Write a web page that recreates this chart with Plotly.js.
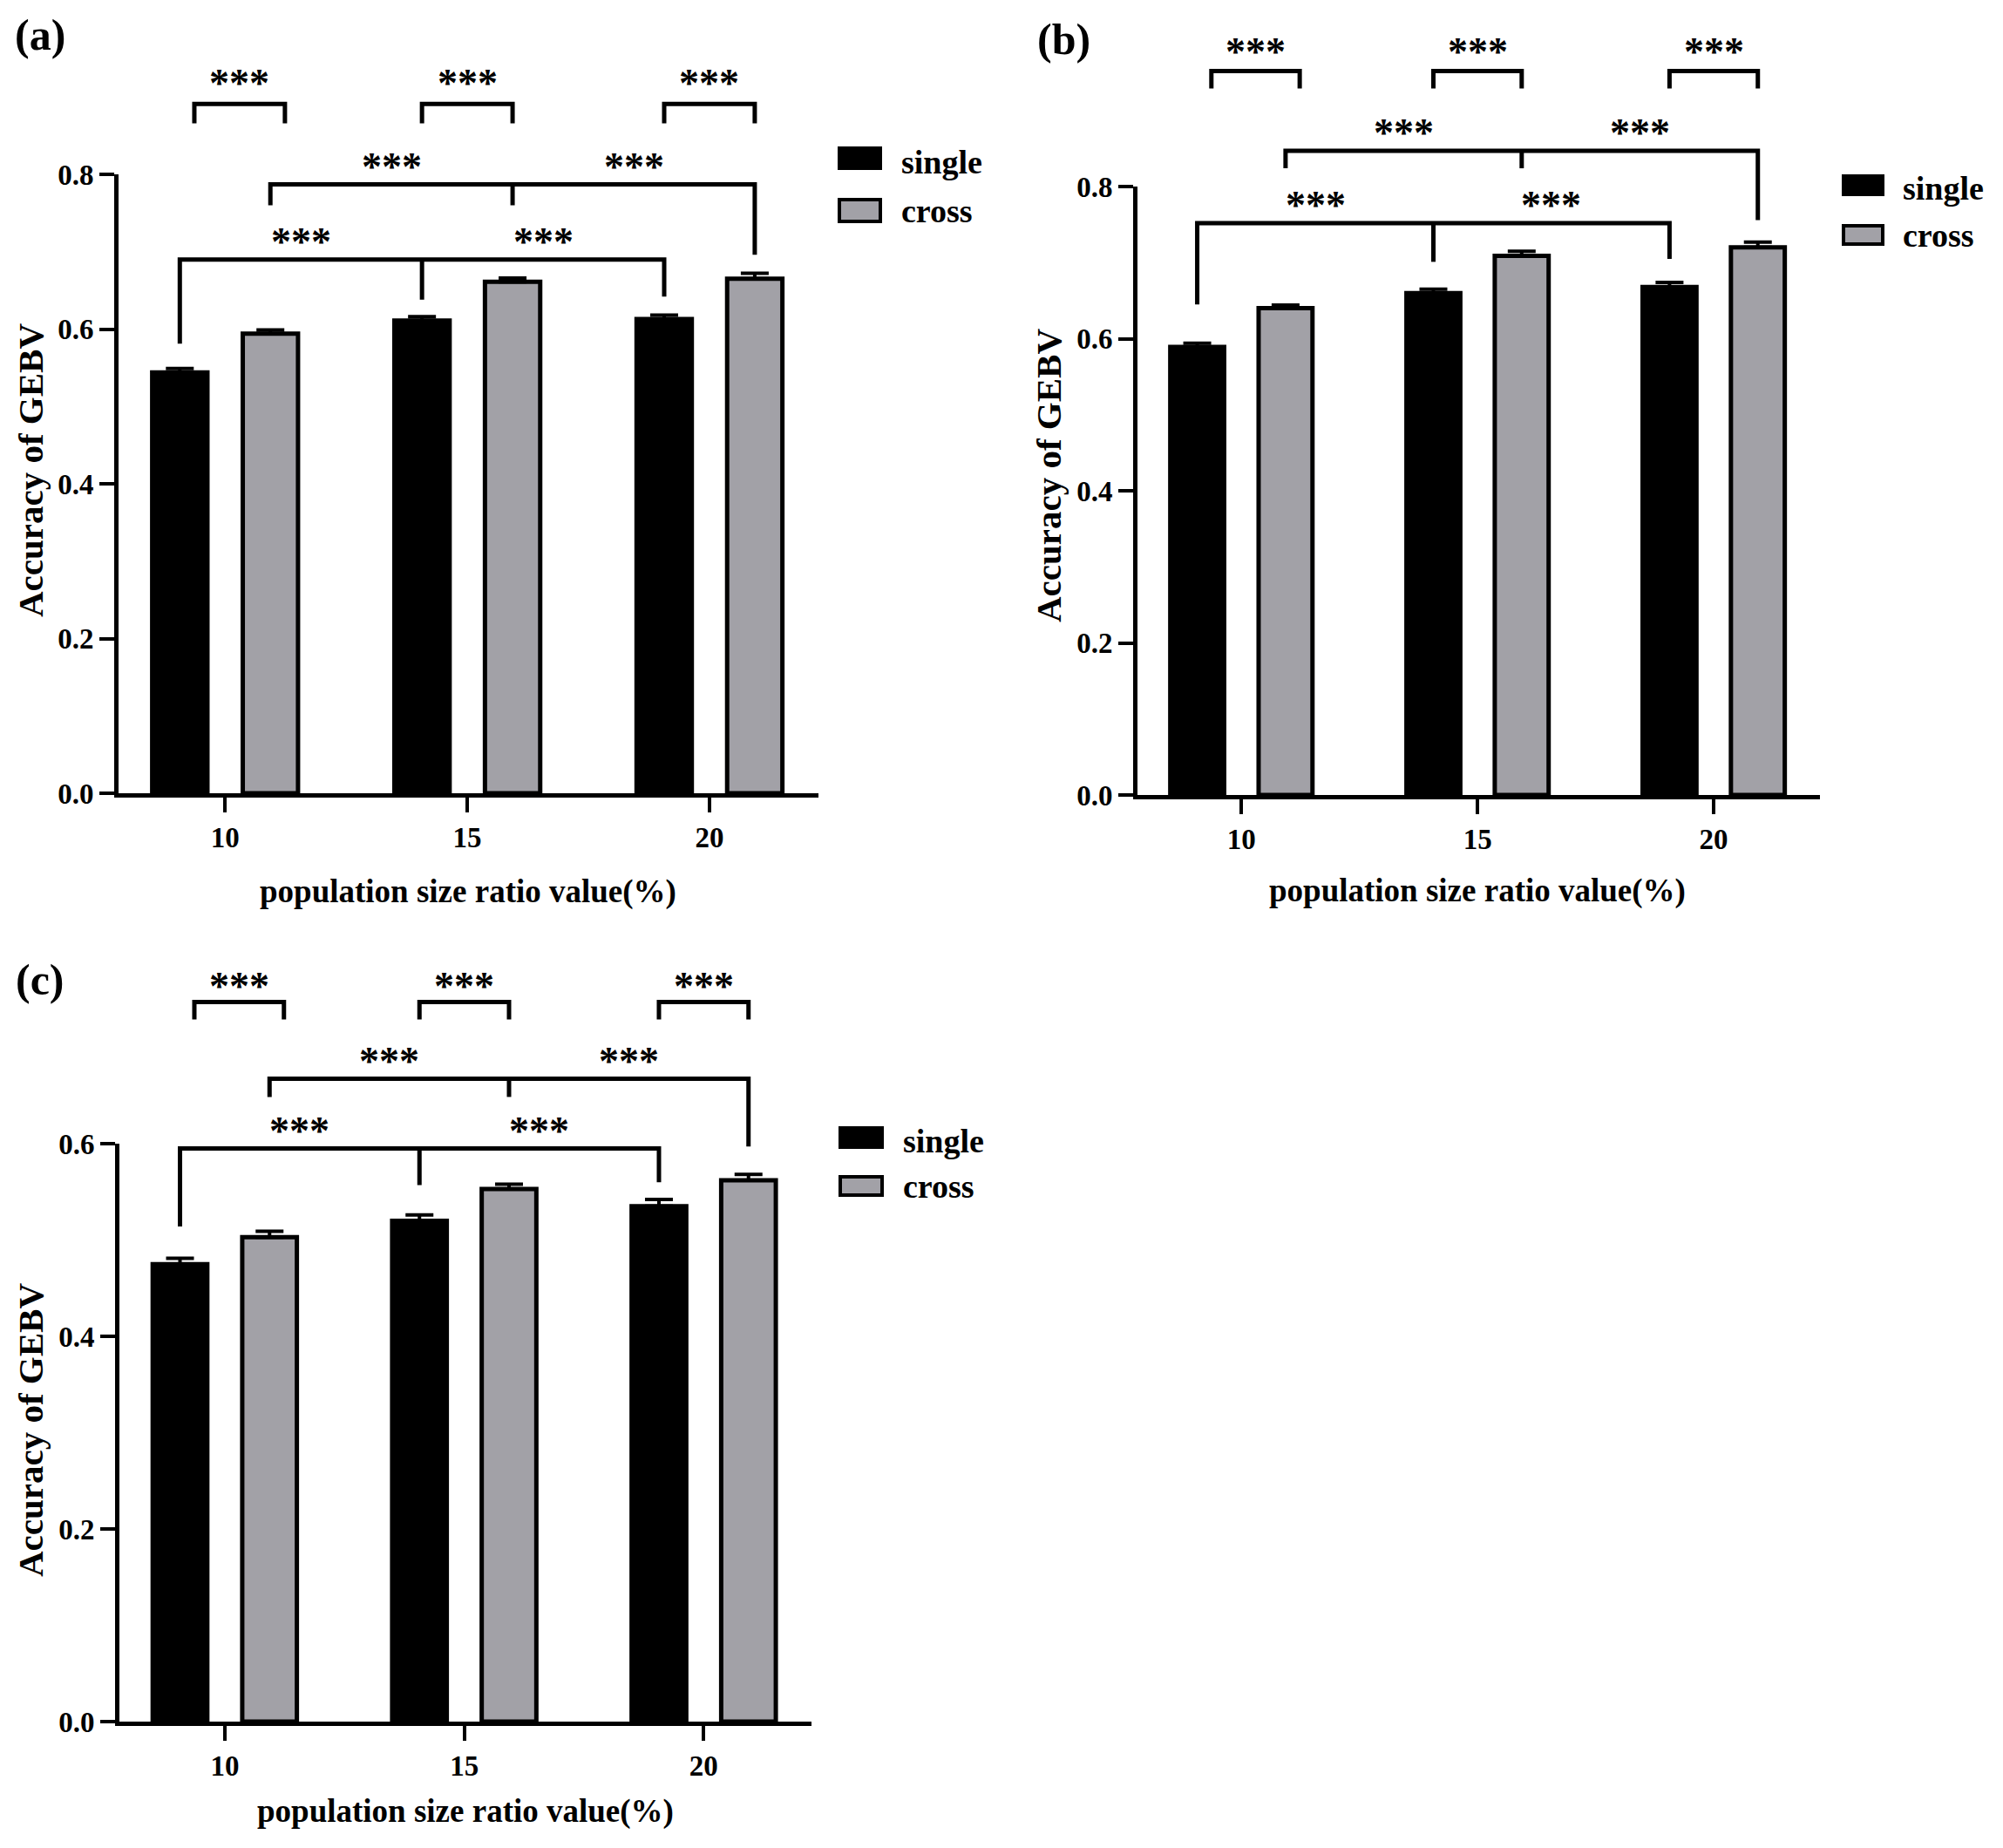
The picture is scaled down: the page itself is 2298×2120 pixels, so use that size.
<!DOCTYPE html>
<html>
<head>
<meta charset="utf-8">
<script src="https://cdn.plot.ly/plotly-3.0.1.min.js"></script>
<style>
  body { margin: 0; background: #fff; }
  #chart { width: 2298px; height: 2120px; }
</style>
</head>
<body>
<div id="chart"></div>
<script>
// values
var ratios = [10, 15, 20]
var tickText = ['10', '15', '20']

var singleA = [0.544, 0.611, 0.613]
var singleErrA = [0.005, 0.005, 0.005]
var crossA = [0.594, 0.661, 0.665]
var crossErrA = [0.005, 0.005, 0.007]

var singleB = [0.589, 0.660, 0.668]
var singleErrB = [0.005, 0.005, 0.006]
var crossB = [0.640, 0.709, 0.720]
var crossErrB = [0.004, 0.006, 0.007]

var singleC = [0.475, 0.520, 0.535]
var singleErrC = [0.006, 0.006, 0.007]
var crossC = [0.503, 0.553, 0.562]
var crossErrC = [0.006, 0.005, 0.006]

// significance brackets: [line level, leg ends...]
var pairA = [0.891, 0.866]
var crossLinkA = [0.787, 0.760, 0.760, 0.696]
var singleLinkA = [0.690, 0.581, 0.638, 0.642]

var pairB = [0.952, 0.929]
var crossLinkB = [0.847, 0.824, 0.824, 0.756]
var singleLinkB = [0.752, 0.645, 0.701, 0.705]

var pairC = [0.747, 0.729]
var crossLinkC = [0.6675, 0.6485, 0.6485, 0.597]
var singleLinkC = [0.595, 0.514, 0.557, 0.560]

var sigText = '***'

var W = 2298, H = 2120
var BARGAP = 0.252, GROUPGAP = 0.39
var GRAY = '#a2a1a7'
var FONT = 'Liberation Serif, Times New Roman, serif'

function px(x) { return x / W }
function py(y) { return 1 - y / H }

var panels = [
    {tag: '(a)', single: singleA, singleErr: singleErrA, cross: crossA, crossErr: crossErrA,
     pair: pairA, crossLink: crossLinkA, singleLink: singleLinkA,
     l: 136, r: 939, b: 910, t: 200, topBr: 40, ymax: 0.8, pairShift: 24,
     label: [46, 40], ytitle: [35, 540], xtitle: [537, 1023],
     leg: {x0: 963, x1: 1010, s: [170, 193], c: [229, 254], tx: 1032}},
    {tag: '(b)', single: singleB, singleErr: singleErrB, cross: crossB, crossErr: crossErrB,
     pair: pairB, crossLink: crossLinkB, singleLink: singleLinkB,
     l: 1305, r: 2088, b: 912, t: 214, topBr: 25, ymax: 0.8, pairShift: 22,
     label: [1220, 45], ytitle: [1203, 546], xtitle: [1695, 1022],
     leg: {x0: 2115, x1: 2160, s: [202, 223], c: [259, 280], tx: 2181}},
    {tag: '(c)', single: singleC, singleErr: singleErrC, cross: crossC, crossErr: crossErrC,
     pair: pairC, crossLink: crossLinkC, singleLink: singleLinkC,
     l: 137, r: 931, b: 1975, t: 1312, topBr: 1085, ymax: 0.6, pairShift: 18,
     label: [46, 1124], ytitle: [35, 1641], xtitle: [534, 2078],
     leg: {x0: 964, x1: 1012, s: [1294, 1316], c: [1350, 1371], tx: 1034}}
]

var data = []
var layout = {
    width: W, height: H,
    margin: {l: 0, r: 0, t: 0, b: 0},
    paper_bgcolor: '#fff',
    plot_bgcolor: 'rgba(0,0,0,0)',
    barmode: 'group',
    bargap: BARGAP,
    bargroupgap: GROUPGAP,
    showlegend: false,
    shapes: [],
    annotations: []
}

var step = ratios[1] - ratios[0]
var off = step * (1 - BARGAP) / 4

function txt(x, y, s, size, extra) {
    var a = {xref: 'paper', yref: 'paper', x: px(x), y: py(y), text: s, showarrow: false,
             xanchor: 'center', yanchor: 'middle',
             font: {family: FONT, size: size, color: '#000', weight: 'bold'}}
    for (var k in extra) a[k] = extra[k]
    return a
}

panels.forEach(function(p, i) {
    var xa = i ? 'x' + (i + 1) : 'x'
    var ya = i ? 'y' + (i + 1) : 'y'
    var yb = 'y' + (i + 4)
    var axisFont = {family: FONT, size: 33, color: '#000', weight: 'bold'}
    var perUnit = (p.b - p.t) / p.ymax

    layout[xa.replace('x', 'xaxis')] = {
        domain: [px(p.l), px(p.r)], anchor: ya,
        range: [ratios[0] - 0.44 * step, ratios[0] + 2.45 * step],
        tickvals: ratios, ticktext: tickText,
        showline: true, linewidth: 5, linecolor: '#000',
        ticks: 'outside', ticklen: 17, tickwidth: 4, tickcolor: '#000',
        showgrid: false, zeroline: false, tickfont: axisFont, fixedrange: true
    }
    layout[ya.replace('y', 'yaxis')] = {
        domain: [py(p.b), py(p.t)], anchor: xa,
        range: [0, p.ymax], dtick: 0.2, tickformat: '.1f',
        showline: true, linewidth: 5, linecolor: '#000',
        ticks: 'outside', ticklen: 17, tickwidth: 4, tickcolor: '#000',
        showgrid: false, zeroline: false, tickfont: axisFont, fixedrange: true
    }
    // taller invisible axis with the same scale, for brackets above the plot
    layout['yaxis' + (i + 4)] = {
        domain: [py(p.b), py(p.topBr)], anchor: xa,
        range: [0, (p.b - p.topBr) / perUnit],
        showline: false, showticklabels: false, ticks: '',
        showgrid: false, zeroline: false, fixedrange: true
    }

    data.push({
        type: 'bar', name: 'single', x: ratios, y: p.single, xaxis: xa, yaxis: ya,
        marker: {color: '#000', line: {color: '#000', width: 5}},
        error_y: {type: 'data', symmetric: false, array: p.singleErr, arrayminus: [0, 0, 0],
                  color: '#000', thickness: 4, width: 16},
        hoverinfo: 'skip'
    })
    data.push({
        type: 'bar', name: 'cross', x: ratios, y: p.cross, xaxis: xa, yaxis: ya,
        marker: {color: GRAY, line: {color: '#000', width: 5}},
        error_y: {type: 'data', symmetric: false, array: p.crossErr, arrayminus: [0, 0, 0],
                  color: '#000', thickness: 4, width: 16},
        hoverinfo: 'skip'
    })

    var line = {color: '#000', width: 5}
    var starFont = {family: FONT, size: 46, color: '#000', weight: 'bold'}
    function star(x, y, lift) {
        layout.annotations.push({xref: xa, yref: yb, x: x, y: y, text: sigText, showarrow: false,
            xanchor: 'center', yanchor: 'middle', yshift: lift, font: starFont})
    }

    // single vs cross at each ratio
    ratios.forEach(function(r, j) {
        var shift = j === 0 ? 0.3 : 0
        var x0 = r - off + shift, x1 = r + off + shift
        data.push({type: 'scatter', mode: 'lines', xaxis: xa, yaxis: yb, hoverinfo: 'skip',
            x: [x0, x0, x1, x1], y: [p.pair[1], p.pair[0], p.pair[0], p.pair[1]], line: line})
        star((x0 + x1) / 2, p.pair[0], p.pairShift)
    })

    // links between ratios, one for cross bars, one for single bars
    ;[[p.crossLink, off], [p.singleLink, -off]].forEach(function(g) {
        var lk = g[0], xs = ratios.map(function(r) { return r + g[1] })
        data.push({type: 'scatter', mode: 'lines', xaxis: xa, yaxis: yb, hoverinfo: 'skip',
            x: [xs[0], xs[0], xs[2], xs[2], null, xs[1], xs[1]],
            y: [lk[1], lk[0], lk[0], lk[3], null, lk[0], lk[2]], line: line})
        star((xs[0] + xs[1]) / 2, lk[0], 20)
        star((xs[1] + xs[2]) / 2, lk[0], 20)
    })

    // legend drawn by hand, to get the wide swatches
    var lg = p.leg
    layout.shapes.push({type: 'rect', xref: 'paper', yref: 'paper',
        x0: px(lg.x0), x1: px(lg.x1), y0: py(lg.s[1]), y1: py(lg.s[0]),
        fillcolor: '#000', line: {color: '#000', width: 4}})
    layout.shapes.push({type: 'rect', xref: 'paper', yref: 'paper',
        x0: px(lg.x0), x1: px(lg.x1), y0: py(lg.c[1]), y1: py(lg.c[0]),
        fillcolor: GRAY, line: {color: '#000', width: 4}})
    layout.annotations.push(txt(lg.tx, (lg.s[0] + lg.s[1]) / 2 + 4, 'single', 38, {xanchor: 'left'}))
    layout.annotations.push(txt(lg.tx, (lg.c[0] + lg.c[1]) / 2, 'cross', 38, {xanchor: 'left'}))

    layout.annotations.push(txt(p.label[0], p.label[1], p.tag, 50))
    layout.annotations.push(txt(p.ytitle[0], p.ytitle[1], 'Accuracy of GEBV', 41, {textangle: -90}))
    layout.annotations.push(txt(p.xtitle[0], p.xtitle[1], 'population size ratio value(%)', 37))
})

Plotly.newPlot('chart', data, layout, {staticPlot: true})
</script>
</body>
</html>
